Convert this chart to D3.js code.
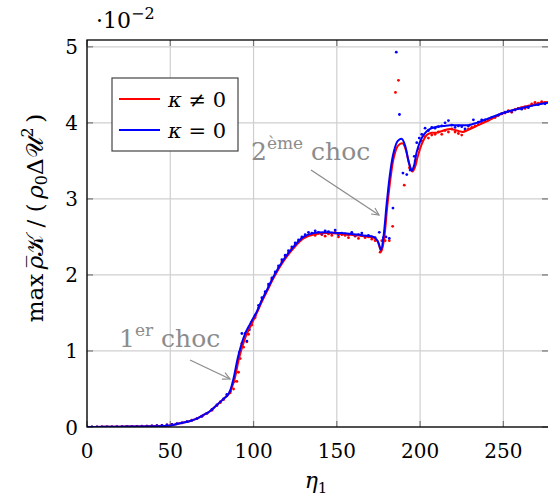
<!DOCTYPE html>
<html><head><meta charset="utf-8">
<script src="https://cdn.jsdelivr.net/npm/d3@7"></script>
<style>body{margin:0;background:#fff}svg{display:block}</style>
</head><body>
<script>
const xTicks=[0,50,100,150,200,250];
const yTicks=[0,1,2,3,4,5];
const seriesNames=["κ ≠ 0","κ = 0"];
// smooth curves
const blueEta=[0,10,20,30,40,50,56,62,66,70,74,78,82,84.5,86,88,91,95,98,102,105,108,112,118,124,130,136,144,152,160,166,172,174.5,176.5,178,180,182,184,186.5,189,191,193,195,196.5,198,201,204,207,210,214,218,222,226,229,234,240,245,250,256,262,268,276.8];
const blueVal=[0,0.002,0.004,0.007,0.01,0.02,0.05,0.08,0.11,0.16,0.21,0.29,0.37,0.42,0.48,0.64,0.95,1.23,1.36,1.52,1.67,1.8,1.98,2.2,2.37,2.5,2.55,2.56,2.55,2.535,2.52,2.5,2.45,2.33,2.5,2.95,3.34,3.6,3.76,3.79,3.7,3.5,3.37,3.45,3.62,3.8,3.89,3.93,3.95,3.96,3.97,3.97,3.97,3.97,4.0,4.05,4.09,4.13,4.17,4.2,4.23,4.265];
const redEta=[0,10,20,30,40,50,56,62,66,70,74,78,82,84.5,86,88.5,91.5,95.5,98.5,102,105,108,112,118,124,130,136,144,152,160,166,172,174.5,176.7,178.3,180.3,182.3,184.3,186.8,189.5,191.5,193.5,195.5,197,198.5,201,204,207,210,214,218,222,226,229,234,240,245,250,256,262,268,276.8];
const redVal=[0,0.002,0.004,0.007,0.01,0.02,0.05,0.08,0.11,0.16,0.21,0.29,0.37,0.42,0.47,0.62,0.92,1.2,1.34,1.5,1.65,1.78,1.96,2.18,2.35,2.48,2.53,2.55,2.54,2.525,2.51,2.49,2.44,2.31,2.46,2.9,3.28,3.55,3.7,3.73,3.64,3.46,3.36,3.42,3.55,3.72,3.84,3.87,3.87,3.9,3.92,3.9,3.88,3.91,3.96,4.02,4.08,4.13,4.17,4.21,4.24,4.275];
// scatter samples
const blueDotEta=[0,3,6,9,12,15,18,21,24,27,30,33,36,39,42,45,48,51,54,57,60,63,66,69,72,75,78,80,82,84,86,88.5,89.5,91.5,93,95,96,97.5,99,101,103,105,107,109,111,113,115,117,119,121,123,125,127,129,131,133,135,137,139,141,143,145,147,149,151,153,155,157,159,161,163,165,167,169,171,173,175.5,178,179.5,181.5,183.7,185.7,187.6,189.7,192,194,196.5,198,199.5,201,203,205,207,209,211,213,215,217,219,221,223,225,227,229,232,235,237,239,241,243,245,247,249,251,253,255,257,259,261,263,265,267,269,271,273,275];
const blueDotVal=[0,0,0,0,0,0,0.003,0.004,0.005,0.006,0.008,0.01,0.012,0.015,0.018,0.022,0.027,0.033,0.043,0.055,0.07,0.088,0.11,0.14,0.18,0.23,0.29,0.33,0.37,0.43,0.47,0.6,0.72,0.98,1.23,1.23,1.13,1.28,1.38,1.47,1.6,1.7,1.78,1.88,1.96,2.04,2.12,2.2,2.26,2.32,2.37,2.42,2.46,2.5,2.53,2.56,2.55,2.58,2.56,2.54,2.58,2.57,2.55,2.59,2.53,2.55,2.54,2.53,2.56,2.52,2.53,2.55,2.51,2.52,2.5,2.49,2.56,2.49,2.5,2.48,2.88,4.93,4.11,3.34,3.32,3.38,3.56,3.74,3.8,3.85,3.93,3.9,3.94,3.93,3.95,3.96,4.0,4.03,3.97,3.94,3.96,3.95,3.92,3.96,4.04,4.01,4.04,4.04,4.05,4.07,4.08,4.1,4.12,4.14,4.15,4.15,4.17,4.19,4.18,4.21,4.2,4.23,4.24,4.24,4.26,4.25];
const redDotEta=[0,3,6,9,12,15,18,21,24,27,30,33,36,39,42,45,48,51,54,57,60,63,66,69,72,75,78,80,82,84,86,88,90,91,92,93,94,96,97,99,101,103,105,107,109,111,113,115,117,119,121,123,125,127,129,131,133,135,137,139,141,143,145,147,149,151,153,155,157,159,161,163,165,167,169,171,173,176,177,179,181.5,183.5,185.2,187,190.5,193.6,195,197,199,201,203,205,207,209,211,213,215,217,219,221,223,225,227,229,231,233,235,237,239,241,243,245,247,249,251,253,255,257,259,261,263,265,267,269,271,273,275];
const redDotVal=[0,0,0,0,0,0,0.002,0.003,0.005,0.006,0.008,0.009,0.012,0.014,0.018,0.021,0.027,0.034,0.042,0.054,0.068,0.09,0.11,0.14,0.18,0.22,0.28,0.32,0.36,0.41,0.45,0.5,0.6,0.72,0.9,1.1,1.05,1.12,1.22,1.34,1.44,1.57,1.66,1.76,1.86,1.94,2.02,2.1,2.17,2.24,2.3,2.35,2.4,2.44,2.48,2.51,2.53,2.54,2.52,2.55,2.53,2.51,2.54,2.52,2.56,2.5,2.53,2.52,2.49,2.54,2.51,2.48,2.52,2.49,2.5,2.47,2.45,2.3,2.45,2.45,2.45,2.64,4.4,4.56,3.18,3.41,3.38,3.5,3.66,3.76,3.82,3.8,3.84,3.85,3.88,3.85,3.9,3.88,3.92,3.88,3.86,3.84,3.9,3.92,3.94,3.96,3.98,4.0,4.02,4.04,4.06,4.07,4.1,4.12,4.13,4.16,4.14,4.17,4.19,4.2,4.19,4.22,4.25,4.27,4.26,4.28,4.27];

const W=548,H=499,L=87,R=548,T=40,B=427;
const FONT="DejaVu Serif";
const svg=d3.select("body").append("svg").attr("width",W).attr("height",H).style("font-family",FONT);
const x=d3.scaleLinear().domain([0,276.8]).range([L,R]);
const y=d3.scaleLinear().domain([0,5.09]).range([B,T]);

// grid
svg.append("g").selectAll("line").data(xTicks).join("line")
  .attr("x1",d=>x(d)).attr("x2",d=>x(d)).attr("y1",T).attr("y2",B)
  .attr("stroke","#cfcfcf").attr("stroke-width",1.2);
svg.append("g").selectAll("line").data(yTicks).join("line")
  .attr("x1",L).attr("x2",R).attr("y1",d=>y(d)).attr("y2",d=>y(d))
  .attr("stroke","#cfcfcf").attr("stroke-width",1.2);
// inner ticks
const tk=svg.append("g").attr("stroke","#777").attr("stroke-width",1.2);
xTicks.forEach(d=>{tk.append("line").attr("x1",x(d)).attr("x2",x(d)).attr("y1",B).attr("y2",B-6);
  tk.append("line").attr("x1",x(d)).attr("x2",x(d)).attr("y1",T).attr("y2",T+6);});
yTicks.forEach(d=>{tk.append("line").attr("x1",L).attr("x2",L+6).attr("y1",y(d)).attr("y2",y(d));
  tk.append("line").attr("x1",R).attr("x2",R-6).attr("y1",y(d)).attr("y2",y(d));});

svg.append("defs").append("clipPath").attr("id","clip").append("rect")
  .attr("x",L).attr("y",T).attr("width",R-L).attr("height",B-T);
const plot=svg.append("g").attr("clip-path","url(#clip)");

const zip=(a,b)=>a.map((v,i)=>[v,b[i]]);
const line=d3.line().x(d=>x(d[0])).y(d=>y(d[1])).curve(d3.curveCatmullRom.alpha(0.5));
plot.append("g").selectAll("circle").data(zip(redDotEta,redDotVal)).join("circle")
  .attr("cx",d=>x(d[0])).attr("cy",d=>y(d[1])).attr("r",1.4).attr("fill","#ff0000");
plot.append("g").selectAll("circle").data(zip(blueDotEta,blueDotVal)).join("circle")
  .attr("cx",d=>x(d[0])).attr("cy",d=>y(d[1])).attr("r",1.4).attr("fill","#0000ff");
plot.append("path").attr("d",line(zip(redEta,redVal))).attr("fill","none").attr("stroke","#ff0000").attr("stroke-width",2);
plot.append("path").attr("d",line(zip(blueEta,blueVal))).attr("fill","none").attr("stroke","#0000ff").attr("stroke-width",2);

// axis box
svg.append("rect").attr("x",L).attr("y",T).attr("width",R-L+2).attr("height",B-T)
  .attr("fill","none").attr("stroke","#000").attr("stroke-width",1.3);

// tick labels
svg.append("g").selectAll("text").data(xTicks).join("text")
  .attr("x",d=>x(d)).attr("y",458).attr("text-anchor","middle").attr("font-size",20).text(d=>d);
svg.append("g").selectAll("text").data(yTicks).join("text")
  .attr("x",78).attr("y",d=>y(d)+7.5).attr("text-anchor","end").attr("font-size",20).text(d=>d);

// scale factor
const sf=svg.append("text").attr("x",96).attr("y",28).attr("font-size",22);
sf.append("tspan").text("·10");
sf.append("tspan").attr("dy",-9).attr("font-size",16).text("−2");

// axis titles
const xl=svg.append("text").attr("x",316).attr("y",488).attr("text-anchor","middle").attr("font-size",22);
xl.append("tspan").attr("font-style","italic").text("η");
xl.append("tspan").attr("dy",5).attr("font-size",15).text("1");

const yl=svg.append("text").attr("transform","translate(43,218) rotate(-90)").attr("text-anchor","middle").attr("font-size",23);
yl.append("tspan").text("max\u2009");
yl.append("tspan").attr("font-style","italic").text("ρ\u0305");
yl.append("tspan").text("𝒦 / (\u2009");
yl.append("tspan").attr("font-style","italic").text("ρ");
yl.append("tspan").attr("dy",4).attr("font-size",16).text("0");
yl.append("tspan").attr("dy",-4).text("Δ𝒰");
yl.append("tspan").attr("dy",-10).attr("font-size",16).text("2");
yl.append("tspan").attr("dy",10).text("\u2009)");

// legend
const lg=svg.append("g");
lg.append("rect").attr("x",112).attr("y",78).attr("width",126).attr("height",73)
  .attr("fill","#fff").attr("stroke","#444").attr("stroke-width",1.2);
[["#ff0000",99,seriesNames[0]],["#0000ff",130,seriesNames[1]]].forEach(([c,yy,t])=>{
  lg.append("line").attr("x1",119).attr("x2",160).attr("y1",yy).attr("y2",yy).attr("stroke",c).attr("stroke-width",2);
  const tt=lg.append("text").attr("x",168).attr("y",yy+8).attr("font-size",21);
  tt.append("tspan").attr("font-style","italic").text(t.slice(0,1));
  tt.append("tspan").text(t.slice(1));
});

// annotations
const gray="#8c8c8c";
svg.append("defs").append("marker").attr("id","arr").attr("viewBox","0 0 10 10").attr("refX",9).attr("refY",5)
  .attr("markerWidth",9).attr("markerHeight",9).attr("markerUnits","userSpaceOnUse").attr("orient","auto")
  .append("path").attr("d","M1,1 L9,5 L1,9").attr("fill","none").attr("stroke",gray).attr("stroke-width",1.3);
const a2=svg.append("text").attr("x",251).attr("y",160).attr("font-size",25).attr("fill",gray);
a2.append("tspan").text("2");
a2.append("tspan").attr("dy",-11).attr("font-size",17).text("ème");
a2.append("tspan").attr("dy",11).text(" choc");
svg.append("line").attr("x1",311).attr("y1",170).attr("x2",379).attr("y2",215)
  .attr("stroke",gray).attr("stroke-width",1.3).attr("marker-end","url(#arr)");
const a1=svg.append("text").attr("x",119).attr("y",347).attr("font-size",25).attr("fill",gray);
a1.append("tspan").text("1");
a1.append("tspan").attr("dy",-11).attr("font-size",17).text("er");
a1.append("tspan").attr("dy",11).text(" choc");
svg.append("line").attr("x1",190).attr("y1",360).attr("x2",230).attr("y2",379)
  .attr("stroke",gray).attr("stroke-width",1.3).attr("marker-end","url(#arr)");
</script>
</body></html>
